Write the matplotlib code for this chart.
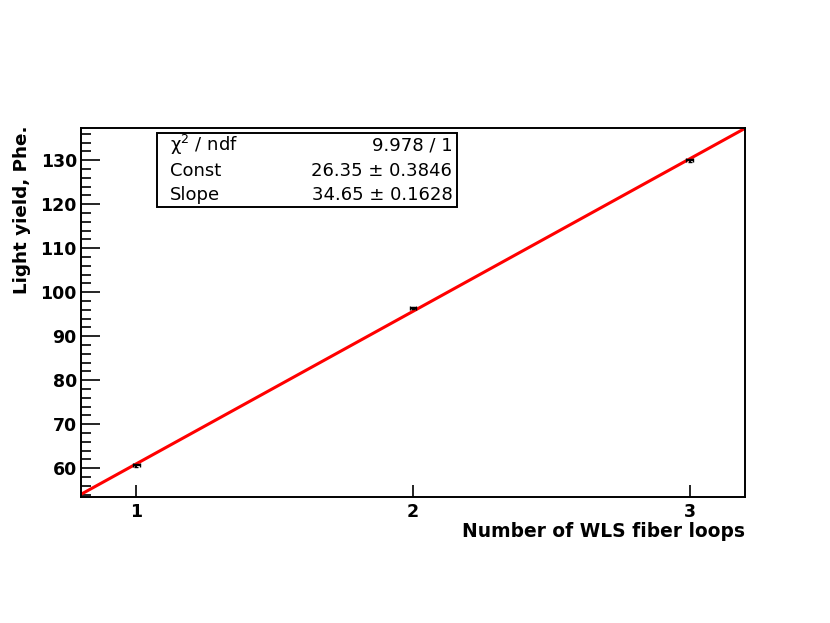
import numpy as np
import matplotlib.pyplot as plt
from matplotlib.patches import Rectangle
from matplotlib.ticker import MultipleLocator

# Measured light yield vs number of fiber loops
loops = [1, 2, 3]
light_yield = [60.65, 96.4, 129.95]
yield_err = [0.35, 0.3, 0.3]
loops_err = [0.012, 0.012, 0.012]

# Linear fit result (stats box)
fit_const = 26.35
fit_slope = 34.65
stat_names = ["\u03c7$^{2}$ / ndf", "Const", "Slope"]
stat_values = ["9.978 / 1", "26.35 \u00b1 0.3846", "34.65 \u00b1 0.1628"]

plt.rcParams['font.family'] = ['DejaVu Sans']

fig = plt.figure(figsize=(8.3, 6.23), dpi=100)
ax = fig.add_axes([0.0976, 0.2022, 0.8, 0.5923])

ax.errorbar(loops, light_yield, yerr=yield_err, xerr=loops_err, fmt='none',
            ecolor='black', elinewidth=1.5, capsize=1.5, zorder=3)

xf = np.array([0.8, 3.2])
ax.plot(xf, fit_const + fit_slope * xf, color='red', linewidth=2.2, zorder=2)

ax.set_xlim(0.8, 3.2)
ax.set_ylim(53.45, 137.3)

ax.xaxis.set_major_locator(MultipleLocator(1))
ax.yaxis.set_major_locator(MultipleLocator(10))
ax.yaxis.set_minor_locator(MultipleLocator(2))

ax.tick_params(axis='y', which='major', direction='in', length=14, width=1.2,
               labelsize=12.5, pad=3)
ax.tick_params(axis='y', which='minor', direction='in', length=7, width=1.2)
ax.tick_params(axis='x', which='major', direction='in', length=8.5, width=1.2,
               labelsize=12.5, pad=4)
for lab in ax.get_xticklabels() + ax.get_yticklabels():
    lab.set_fontweight('bold')

for sp in ax.spines.values():
    sp.set_linewidth(1.4)

ax.set_xlabel("Number of WLS fiber loops", fontsize=13.4, fontweight='bold',
              loc='right', labelpad=1)
ax.set_ylabel("Light yield, Phe.", fontsize=13.2, fontweight='bold',
              loc='top', labelpad=7)
ax.yaxis.label.set_y(1.008)

# stats box
box = Rectangle((0.189, 0.668), 0.362, 0.119, transform=fig.transFigure,
                facecolor='white', edgecolor='black', linewidth=1.4, zorder=5)
fig.patches.append(box)
rows_y = [0.767, 0.7255, 0.687]
for name, val, yy in zip(stat_names, stat_values, rows_y):
    fig.text(0.205, yy, name, fontsize=13, ha='left', va='center', zorder=6)
    fig.text(0.545, yy, val, fontsize=13, ha='right', va='center', zorder=6)

fig.savefig("out.png", dpi=100)
